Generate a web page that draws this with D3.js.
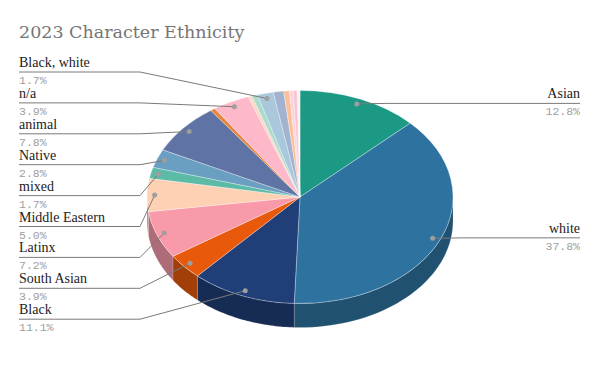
<!DOCTYPE html>
<html>
<head>
<meta charset="utf-8">
<script src="https://cdn.jsdelivr.net/npm/d3@7"></script>
<style>
  body { margin: 0; background: #fff; }
  svg { display: block; }
</style>
</head>
<body>
<div id="chart"></div>
<script>
// slices, clockwise from 12 o'clock (small unlabelled ones are guesses)
const names = ['Asian', 'white', 'Black', 'South Asian', 'Latinx', 'Middle Eastern',
  'mixed', 'Native', 'animal', 'other 1', 'n/a', 'other 2', 'other 3', 'Black, white',
  'other 4', 'other 5', 'other 6', 'other 7', 'other 8']
const values = [12.8, 37.8, 11.1, 3.9, 7.2, 5.0,
  1.7, 2.8, 7.8, 0.5, 3.9, 0.4, 0.6, 1.7,
  1.1, 0.6, 0.4, 0.4, 0.3]
const colors = ['#1b9985', '#2e73a0', '#203f78', '#e8590c', '#f99aab', '#fed0b4',
  '#5cbba6', '#6b9fc1', '#5f73a4', '#e9853e', '#fdb8c9', '#fcd8c4', '#a9dccd', '#a9c8dc',
  '#a3b3cf', '#fbc09a', '#fcd3dc', '#f8c4d0', '#fff1f1']
const leftLabels = ['Black, white', 'n/a', 'animal', 'Native', 'mixed', 'Middle Eastern',
  'Latinx', 'South Asian', 'Black']
const rightLabels = ['Asian', 'white']

const canvasWidth = 600
const canvasHeight = 381
const cx = 300
const cy = 197
const rx = 153
const ry = 106.5
const depth = 24

const svg = d3.select('#chart')
  .append('svg')
  .attr('width', canvasWidth)
  .attr('height', canvasHeight)

svg.append('text')
  .attr('x', 19)
  .attr('y', 38)
  .attr('font-family', 'DejaVu Serif')
  .attr('font-size', 17.5)
  .style('fill', '#757575')
  .text('2023 Character Ethnicity')

const data = names.map((name, i) => ({name, value: values[i], color: colors[i]}))
const arcs = d3.pie().sort(null).value(d => d.value)(data)

// point on the tilted ellipse for angle a (0 = top, clockwise)
const pt = (a, f = 1, dy = 0) => [cx + rx * f * Math.sin(a), cy - ry * f * Math.cos(a) + dy]

// outer walls, only the front half (between 90 and 270 deg) can be seen
const wall = svg.append('g')
arcs.forEach(d => {
  const a0 = Math.max(d.startAngle, Math.PI / 2)
  const a1 = Math.min(d.endAngle, Math.PI * 1.5)
  if (a1 <= a0) return
  const steps = d3.range(0, 41).map(i => a0 + (a1 - a0) * i / 40)
  const pts = steps.map(a => pt(a)).concat(steps.slice().reverse().map(a => pt(a, 1, depth)))
  wall.append('path')
    .attr('d', d3.line()(pts) + 'Z')
    .attr('fill', d3.color(d.data.color).darker(1))
    .attr('stroke', 'rgba(255,255,255,0.25)')
    .attr('stroke-width', 0.6)
})

// top face: normal d3 arcs squashed vertically
const arc = d3.arc().innerRadius(0).outerRadius(rx)
svg.append('g')
  .attr('transform', `translate(${cx}, ${cy}) scale(1, ${ry / rx})`)
  .selectAll('path')
  .data(arcs)
  .enter()
  .append('path')
  .attr('d', arc)
  .attr('fill', d => d.data.color)
  .attr('stroke', 'rgba(255,255,255,0.45)')
  .attr('stroke-width', 0.7)
  .attr('vector-effect', 'non-scaling-stroke')

// labels
const lineColor = '#7a7a7a'
const labels = svg.append('g')
const midOf = name => {
  const d = arcs.find(a => a.data.name === name)
  return {d, p: pt((d.startAngle + d.endAngle) / 2, 0.95)}
}
const pct = d => `${d.data.value.toFixed(1)}%`

leftLabels.forEach((name, i) => {
  const {d, p} = midOf(name)
  const ly = 72 + i * 30.9
  labels.append('path')
    .attr('d', d3.line()([[19, ly], [140, ly], p]))
    .attr('fill', 'none')
    .attr('stroke', lineColor)
    .attr('stroke-width', 1)
  labels.append('circle')
    .attr('cx', p[0]).attr('cy', p[1]).attr('r', 2.5)
    .attr('fill', '#9e9e9e')
  labels.append('text')
    .attr('x', 19).attr('y', ly - 5)
    .attr('font-family', 'Liberation Serif')
    .attr('font-size', 14)
    .style('fill', '#222')
    .text(name)
  labels.append('text')
    .attr('x', 19).attr('y', ly + 12)
    .attr('font-family', 'Liberation Mono')
    .attr('font-size', 11.5)
    .style('fill', '#9e9e9e')
    .text(pct(d))
})

rightLabels.forEach(name => {
  const {d, p} = midOf(name)
  const ly = p[1] - 0.5
  labels.append('path')
    .attr('d', d3.line()([p, [p[0] + 30, ly], [580, ly]]))
    .attr('fill', 'none')
    .attr('stroke', lineColor)
    .attr('stroke-width', 1)
  labels.append('circle')
    .attr('cx', p[0]).attr('cy', p[1]).attr('r', 2.5)
    .attr('fill', '#9e9e9e')
  labels.append('text')
    .attr('x', 580).attr('y', ly - 5)
    .attr('text-anchor', 'end')
    .attr('font-family', 'Liberation Serif')
    .attr('font-size', 14)
    .style('fill', '#222')
    .text(name)
  labels.append('text')
    .attr('x', 580).attr('y', ly + 12)
    .attr('text-anchor', 'end')
    .attr('font-family', 'Liberation Mono')
    .attr('font-size', 11.5)
    .style('fill', '#9e9e9e')
    .text(pct(d))
})
</script>
</body>
</html>
